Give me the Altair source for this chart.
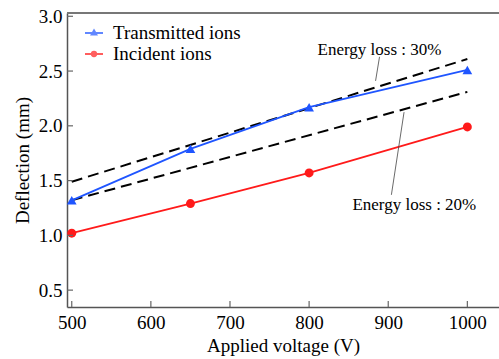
import altair as alt
import pandas as pd

# ---- data ----
voltage = [500, 650, 800, 1000]
transmitted = [1.32, 1.79, 2.17, 2.51]
incident = [1.02, 1.29, 1.57, 1.99]

loss_voltage = [500, 1000]
loss30 = [1.49, 2.61]
loss20 = [1.32, 2.31]

series_names = ["Transmitted ions", "Incident ions"]
series_colors = ["#1f55ff", "#ff1a1a"]

x_ticks = [500, 600, 700, 800, 900, 1000]
y_ticks = [0.5, 1.0, 1.5, 2.0, 2.5, 3.0]

ann_text = ["Energy loss : 30%", "Energy loss : 20%"]
ann_x = [889, 933]
ann_y = [2.69, 1.277]
lead_x = [889, 920]
lead_y = [2.63, 2.125]
lead_x2 = [884, 904]
lead_y2 = [2.41, 1.37]

W, H = 432, 294
FONT = "'Liberation Serif', 'Times New Roman', Times, 'DejaVu Serif', serif"

xscale = alt.Scale(domain=[494, 1040], nice=False, zero=False)
yscale = alt.Scale(domain=[0.346, 3.03], nice=False, zero=False)

df_t = pd.DataFrame({"v": voltage, "d": transmitted})
df_i = pd.DataFrame({"v": voltage, "d": incident})
df_30 = pd.DataFrame({"v": loss_voltage, "d": loss30})
df_20 = pd.DataFrame({"v": loss_voltage, "d": loss20})
df_ann = pd.DataFrame({"v": ann_x, "d": ann_y, "t": ann_text})
df_lead = pd.DataFrame({"v": lead_x, "d": lead_y, "v2": lead_x2, "d2": lead_y2})
df_xt = pd.DataFrame({"v": x_ticks})
df_yt = pd.DataFrame({"d": y_ticks})
df_leg = pd.DataFrame({"s": series_names, "v": [600, 600], "d": [2, 2]})

xenc = alt.X("v:Q", scale=xscale, title="Applied voltage (V)",
             axis=alt.Axis(values=x_ticks, format="d", grid=False, ticks=False,
                           labelPadding=6, titlePadding=4, domainColor="#555",
                           domainWidth=1.5))
yenc = alt.Y("d:Q", scale=yscale, title="Deflection (mm)",
             axis=alt.Axis(values=y_ticks, format=".1f", grid=False, ticks=False,
                           labelPadding=5, titlePadding=6, domainColor="#555",
                           domainWidth=1.5))

dash30 = alt.Chart(df_30).mark_line(color="black", strokeWidth=2, strokeDash=[11, 6]).encode(x=xenc, y=yenc)
dash20 = alt.Chart(df_20).mark_line(color="black", strokeWidth=2, strokeDash=[11, 6]).encode(x="v:Q", y="d:Q")

line_t = alt.Chart(df_t).mark_line(color=series_colors[0], strokeWidth=1.8).encode(x="v:Q", y="d:Q")
line_i = alt.Chart(df_i).mark_line(color=series_colors[1], strokeWidth=1.8).encode(x="v:Q", y="d:Q")
pt_t = alt.Chart(df_t).mark_point(filled=True, shape="triangle-up", size=95, opacity=1,
                                  color=series_colors[0]).encode(x="v:Q", y="d:Q")
pt_i = alt.Chart(df_i).mark_point(filled=True, shape="circle", size=80, opacity=1,
                                  color=series_colors[1]).encode(x="v:Q", y="d:Q")

ann = alt.Chart(df_ann).mark_text(font=FONT, fontSize=17, color="black").encode(
    x="v:Q", y="d:Q", text="t:N")
lead = alt.Chart(df_lead).mark_rule(color="#444", strokeWidth=0.8).encode(
    x="v:Q", y="d:Q", x2="v2:Q", y2="d2:Q")

xt = alt.Chart(df_xt).mark_rule(color="#666", strokeWidth=1.2).encode(
    x="v:Q", y=alt.value(H), y2=alt.value(H - 6))
yt = alt.Chart(df_yt).mark_rule(color="#666", strokeWidth=1.2).encode(
    y="d:Q", x=alt.value(0), x2=alt.value(6))
top = alt.Chart(df_xt).mark_rule(color="#777", strokeWidth=1.5).encode(
    x=alt.value(0), x2=alt.value(W), y=alt.value(0))

paths = ["M-1,0L1,0M0,-0.3L0.27,0.18L-0.27,0.18Z",
         "M-1,0L1,0M0.25,0A0.25,0.25,0,1,1,-0.25,0A0.25,0.25,0,1,1,0.25,0Z"]
legend_layer = alt.Chart(df_leg).transform_filter("false").mark_point(filled=True).encode(
    x="v:Q", y="d:Q",
    fill=alt.Fill("s:N", scale=alt.Scale(domain=series_names, range=series_colors),
                  legend=alt.Legend(title=None, orient="none", legendX=17, legendY=10)),
    stroke=alt.Stroke("s:N", scale=alt.Scale(domain=series_names, range=series_colors),
                      legend=alt.Legend(title=None, orient="none", legendX=17, legendY=10)),
    shape=alt.Shape("s:N", scale=alt.Scale(domain=series_names, range=paths),
                    legend=alt.Legend(title=None, orient="none", legendX=17, legendY=10)),
)

chart = alt.layer(dash30, dash20, line_t, line_i, pt_t, pt_i, lead, ann, xt, yt, top,
                  legend_layer).properties(
    width=W, height=H,
    padding={"left": 67, "top": 13, "right": 0, "bottom": 52},
    autosize="none",
).configure_view(stroke=None).configure_axis(
    labelFont=FONT, titleFont=FONT, labelFontSize=19, titleFontSize=19,
    titleFontWeight="normal", labelColor="black", titleColor="black",
).configure_legend(
    labelFont=FONT, labelFontSize=19, labelColor="black", symbolSize=324,
    symbolStrokeWidth=1.8, labelOffset=9, rowPadding=1, padding=0,
)

chart.save("out.html", embed_options={"renderer": "svg", "actions": False})
